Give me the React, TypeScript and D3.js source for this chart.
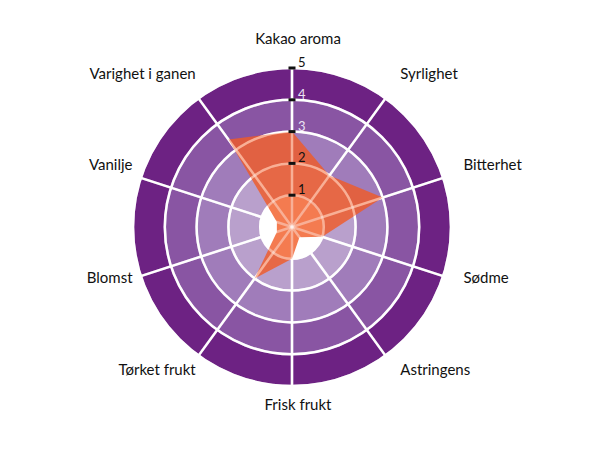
import React, { useEffect, useRef } from 'react';
import * as d3 from 'd3';

const attributes = [
    'Kakao aroma', 'Syrlighet', 'Bitterhet', 'Sødme', 'Astringens',
    'Frisk frukt', 'Tørket frukt', 'Blomst', 'Vanilje', 'Varighet i ganen',
];
const scores = [3, 2, 3, 1, 0.4, 1, 2, 0.5, 0.5, 3.4];
const levels = [1, 2, 3, 4, 5];
const bandColors = ['#ffffff', '#b9a0cc', '#a07cba', '#8955a3', '#6d2283'];
const levelLabelColors = ['#111', '#111', '#ece2f4', '#ece2f4', '#111'];

const WIDTH = 610;
const HEIGHT = 450;

const App: React.FC = () => {
    const svgRef = useRef<SVGSVGElement>(null);

    useEffect(() => {
        if (!svgRef.current) return;
        const svg = d3.select(svgRef.current);
        svg.selectAll('*').remove();

        const cx = 292;
        const cy = 227;
        const outer = 159;
        const font = 'Lato, "Open Sans", sans-serif';

        const r = d3.scaleLinear().domain([0, 5]).range([0, outer]);
        const angle = d3.scaleLinear()
            .domain([0, attributes.length])
            .range([0, 2 * Math.PI]);

        const g = svg.append('g').attr('transform', `translate(${cx},${cy})`);

        // coloured bands, one per level
        const arc = d3.arc<number>()
            .innerRadius(d => r(d - 1))
            .outerRadius(d => r(d))
            .startAngle(0)
            .endAngle(2 * Math.PI);

        g.selectAll('path.band')
            .data(levels)
            .join('path')
            .attr('class', 'band')
            .attr('d', d => arc(d) as string)
            .attr('fill', (_, i) => bandColors[i]);

        const drawGrid = (sel: d3.Selection<SVGGElement, unknown, null, undefined>, opacity: number) => {
            sel.selectAll('circle')
                .data(levels)
                .join('circle')
                .attr('r', d => r(d))
                .attr('fill', 'none')
                .attr('stroke', '#fff')
                .attr('stroke-opacity', opacity)
                .attr('stroke-width', 2.5);
            sel.selectAll('line')
                .data(attributes)
                .join('line')
                .attr('x1', 0)
                .attr('y1', 0)
                .attr('x2', (_, i) => r(5) * Math.sin(angle(i)))
                .attr('y2', (_, i) => -r(5) * Math.cos(angle(i)))
                .attr('stroke', '#fff')
                .attr('stroke-opacity', opacity)
                .attr('stroke-width', 2.5);
        };

        drawGrid(g.append('g'), 1);

        // score polygon
        const radar = d3.lineRadial<number>()
            .angle((_, i) => angle(i))
            .radius(d => r(d))
            .curve(d3.curveLinearClosed);

        g.append('path')
            .datum(scores)
            .attr('d', radar)
            .attr('fill', '#f15a24')
            .attr('fill-opacity', 0.8);

        // grid shows faintly through the polygon
        drawGrid(g.append('g'), 0.4);

        // scale ticks on the first axis
        const ticks = g.append('g');
        ticks.selectAll('rect')
            .data(levels)
            .join('rect')
            .attr('x', -3.5)
            .attr('y', d => -r(d) - 1.5)
            .attr('width', 7)
            .attr('height', 3)
            .attr('fill', '#111');
        ticks.selectAll('text')
            .data(levels)
            .join('text')
            .attr('x', 6)
            .attr('y', d => -r(d) - 1)
            .attr('font-family', font)
            .attr('font-size', 13)
            .attr('fill', (_, i) => levelLabelColors[i])
            .text(d => d);

        // attribute labels
        const labelR = 174;
        const labelRy = 183;
        g.selectAll('text.label')
            .data(attributes)
            .join('text')
            .attr('class', 'label')
            .attr('x', (_, i) => 6 + labelR * Math.sin(angle(i)))
            .attr('y', (_, i) => -labelRy * Math.cos(angle(i)) - 4)
            .attr('text-anchor', (_, i) => {
                const s = Math.sin(angle(i));
                return Math.abs(s) < 0.01 ? 'middle' : s > 0 ? 'start' : 'end';
            })
            .attr('dominant-baseline', 'middle')
            .attr('font-family', font)
            .attr('font-size', 15)
            .attr('fill', '#111')
            .text(d => d);
    }, []);

    return (
        <div style={{ position: 'fixed', left: 0, top: 0, width: WIDTH, height: HEIGHT, background: '#fff' }}>
            <svg ref={svgRef} width={WIDTH} height={HEIGHT} />
        </div>
    );
};

export default App;
